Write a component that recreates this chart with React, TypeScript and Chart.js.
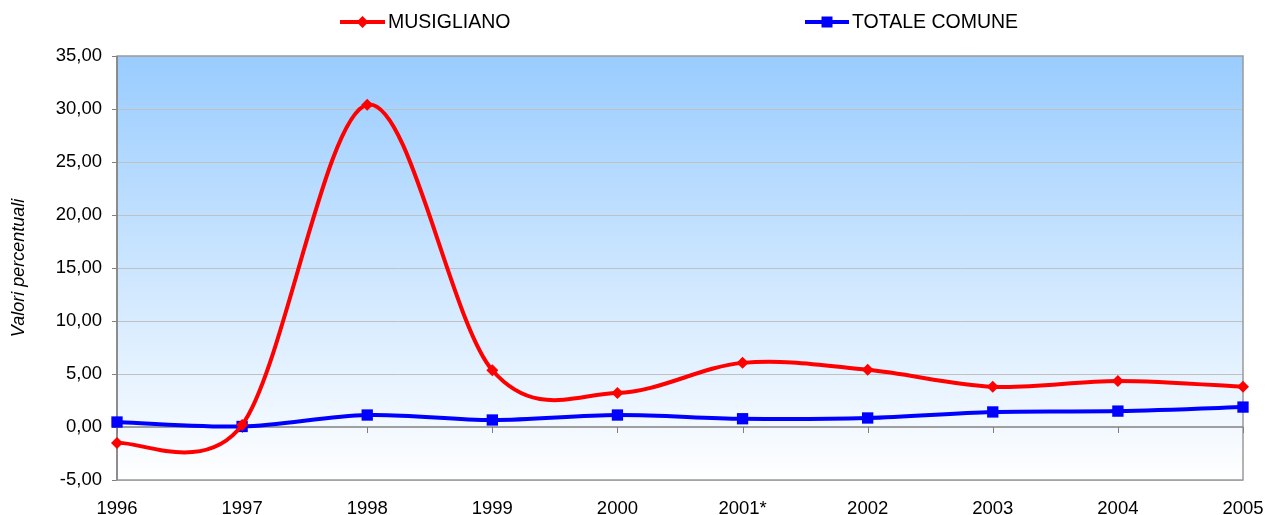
import React, { useEffect, useRef } from 'react';
import { Chart, registerables } from 'chart.js';

Chart.register(...registerables);

const years = ['1996', '1997', '1998', '1999', '2000', '2001*', '2002', '2003', '2004', '2005'];
const musigliano = [-1.51, 0.2, 30.4, 5.35, 3.2, 6.05, 5.4, 3.8, 4.35, 3.8];
const totaleComune = [0.47, 0.05, 1.13, 0.66, 1.13, 0.78, 0.85, 1.42, 1.5, 1.88];
const seriesLabels = ['MUSIGLIANO', 'TOTALE COMUNE'];
const seriesColors = ['#FF0000', '#0000FF'];
const yMin = -5;
const yMax = 35;
const yStep = 5;
const yTitle = 'Valori percentuali';

const FONT = '"Liberation Sans", Arial, sans-serif';

const bgPlugin = {
  id: 'bgPlugin',
  beforeDraw(chart: any) {
    const { ctx, chartArea: a } = chart;
    const g = ctx.createLinearGradient(0, a.top, 0, a.bottom);
    g.addColorStop(0, '#99CCFF');
    g.addColorStop(1, '#FFFFFF');
    ctx.save();
    ctx.fillStyle = g;
    ctx.fillRect(a.left, a.top, a.right - a.left, a.bottom - a.top);
    ctx.restore();
  },
};

// Excel-style smoothing: recompute the bezier control points of the library's line elements
const smoothPlugin = {
  id: 'excelSmooth',
  beforeDatasetDraw(chart: any, args: any) {
    const meta = args.meta;
    const line = meta.dataset;
    if (!line || !line.updateControlPoints) return;
    line.updateControlPoints(chart.chartArea, meta.indexAxis);
    const pts = line.points || [];
    const n = pts.length;
    const dist = (a: any, b: any) => Math.hypot(b.x - a.x, b.y - a.y);
    for (let i = 0; i < n - 1; i++) {
      const p1 = pts[i];
      const p2 = pts[i + 1];
      const p0 = i > 0 ? pts[i - 1] : p1;
      const p3 = i + 2 < n ? pts[i + 2] : p2;
      const d02 = dist(p0, p2);
      const d12 = dist(p1, p2);
      const d13 = dist(p1, p3);
      const f1 = d02 === 0 ? 0 : d02 / 6 < d12 / 2 ? 1 / 6 : d12 / (2 * d02);
      const f2 = d13 === 0 ? 0 : d13 / 6 < d12 / 2 ? 1 / 6 : d12 / (2 * d13);
      p1.cp2x = p1.x + f1 * (p2.x - p0.x);
      p1.cp2y = p1.y + f1 * (p2.y - p0.y);
      p2.cp1x = p2.x - f2 * (p3.x - p1.x);
      p2.cp1y = p2.y - f2 * (p3.y - p1.y);
    }
    if (n) {
      pts[0].cp1x = pts[0].x;
      pts[0].cp1y = pts[0].y;
      pts[n - 1].cp2x = pts[n - 1].x;
      pts[n - 1].cp2y = pts[n - 1].y;
    }
    delete line._path;
  },
};

const axisPlugin = {
  id: 'axisPlugin',
  beforeDatasetsDraw(chart: any) {
    const { ctx, chartArea: a, scales } = chart;
    const y0 = scales.y.getPixelForValue(0);
    ctx.save();
    ctx.strokeStyle = '#9A9A9A';
    ctx.lineWidth = 1.5;
    ctx.strokeRect(a.left, a.top, a.right - a.left, a.bottom - a.top);
    ctx.strokeStyle = '#808080';
    ctx.lineWidth = 1.5;
    ctx.beginPath();
    ctx.moveTo(a.left, a.top);
    ctx.lineTo(a.left, a.bottom);
    ctx.stroke();
    ctx.beginPath();
    ctx.moveTo(a.left, y0);
    ctx.lineTo(a.right, y0);
    ctx.stroke();
    ctx.lineWidth = 1;
    for (let i = 0; i < years.length; i++) {
      const x = Math.round(scales.x.getPixelForValue(i)) + 0.5;
      ctx.beginPath();
      ctx.moveTo(x, y0);
      ctx.lineTo(x, y0 + 6);
      ctx.stroke();
    }
    ctx.restore();
  },
};

const legendPlugin = {
  id: 'customLegend',
  afterDraw(chart: any) {
    const { ctx } = chart;
    const items = [
      { x0: 340, x1: 385, tx: 388 },
      { x0: 805, x1: 849, tx: 852 },
    ];
    const y = 22;
    ctx.save();
    ctx.font = `19.5px ${FONT}`;
    ctx.textBaseline = 'middle';
    ctx.textAlign = 'left';
    items.forEach((it, i) => {
      const c = seriesColors[i];
      ctx.strokeStyle = c;
      ctx.fillStyle = c;
      ctx.lineWidth = 4;
      ctx.beginPath();
      ctx.moveTo(it.x0, y);
      ctx.lineTo(it.x1, y);
      ctx.stroke();
      const cx = (it.x0 + it.x1) / 2;
      ctx.beginPath();
      if (i === 0) {
        const r = 6;
        ctx.moveTo(cx, y - r);
        ctx.lineTo(cx + r, y);
        ctx.lineTo(cx, y + r);
        ctx.lineTo(cx - r, y);
        ctx.closePath();
      } else {
        ctx.rect(cx - 5.5, y - 5.5, 11, 11);
      }
      ctx.fill();
      ctx.fillStyle = '#000';
      ctx.fillText(seriesLabels[i], it.tx, y + 1);
    });
    ctx.restore();
  },
};

export default function App() {
  const ref = useRef<HTMLCanvasElement | null>(null);
  useEffect(() => {
    if (!ref.current) return;
    const chart = new Chart(ref.current, {
      type: 'line',
      data: {
        labels: years,
        datasets: [
          {
            label: seriesLabels[0],
            data: musigliano,
            borderColor: seriesColors[0],
            backgroundColor: seriesColors[0],
            borderWidth: 4,
            tension: 0.4,
            pointStyle: 'rectRot',
            pointRadius: 6,
            pointHoverRadius: 6,
            pointBorderWidth: 0,
          },
          {
            label: seriesLabels[1],
            data: totaleComune,
            borderColor: seriesColors[1],
            backgroundColor: seriesColors[1],
            borderWidth: 4,
            tension: 0.4,
            pointStyle: 'rect',
            pointRadius: 8,
            pointHoverRadius: 8,
            pointBorderWidth: 0,
          },
        ],
      },
      options: {
        animation: false,
        responsive: false,
        maintainAspectRatio: false,
        layout: { padding: { top: 56, right: 29, left: 0, bottom: 0 } },
        plugins: {
          legend: { display: false },
          tooltip: { enabled: false },
        },
        scales: {
          x: {
            offset: false,
            grid: { display: false, drawTicks: false },
            border: { display: false },
            ticks: {
              color: '#000',
              font: { family: FONT, size: 18.5 },
              padding: 18,
              maxRotation: 0,
              autoSkip: false,
            },
            afterFit(scale: any) {
              scale.height = 35;
              scale.paddingLeft = 0;
              scale.paddingRight = 0;
            },
          },
          y: {
            min: yMin,
            max: yMax,
            border: { display: false },
            grid: {
              color: (c: any) => (c.tick && c.tick.value === 0 ? 'rgba(0,0,0,0)' : '#C0C0C0'),
              tickColor: '#808080',
              tickLength: 5,
              lineWidth: 1,
            },
            ticks: {
              stepSize: yStep,
              color: '#000',
              font: { family: FONT, size: 18.5 },
              padding: 10,
              callback: (v: any) => Number(v).toFixed(2).replace('.', ','),
            },
            title: {
              display: true,
              text: yTitle,
              color: '#000',
              font: { family: FONT, size: 18, style: 'italic' },
              padding: { top: 8, bottom: 0 },
            },
            afterFit(scale: any) {
              scale.width = 117;
            },
          },
        },
      },
      plugins: [bgPlugin, smoothPlugin, axisPlugin, legendPlugin],
    });
    return () => chart.destroy();
  }, []);
  return (
    <div style={{ position: 'fixed', left: 0, top: 0, width: 1272, height: 515, background: '#fff' }}>
      <canvas ref={ref} width={1272} height={515} style={{ display: 'block', width: 1272, height: 515 }} />
    </div>
  );
}
